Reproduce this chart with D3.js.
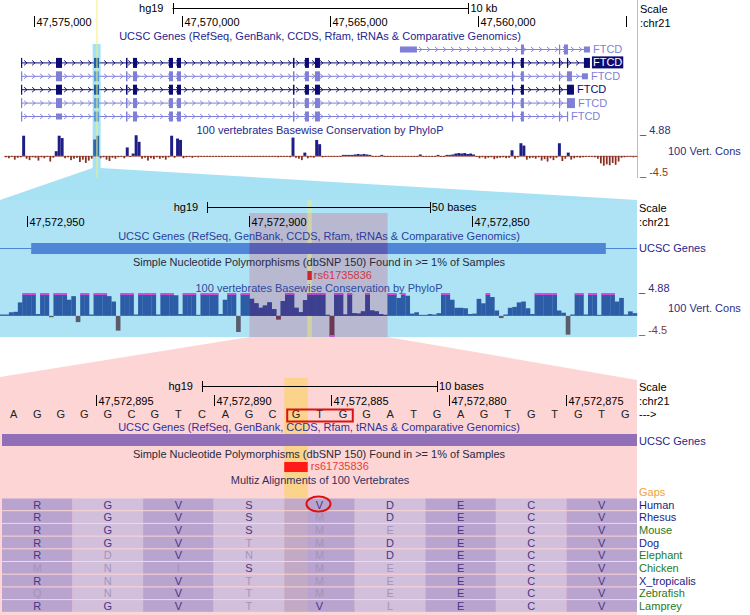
<!DOCTYPE html>
<html><head><meta charset="utf-8">
<script src="https://cdn.jsdelivr.net/npm/d3@7"></script>
<style>
body{margin:0;background:#fff}
svg{display:block}
text{font-family:"Liberation Sans",Arial,Helvetica,sans-serif;font-size:11px}
</style></head>
<body><svg id="c" width="750" height="615"></svg>
<script>
// ---------------- DATA ----------------
const assembly = "hg19", chromLabel = ":chr21";
const view1 = [47554628, 47576014];
const view2 = [47572813, 47572956];
const view3 = [47572872, 47572899];
const hl1 = [47572750, 47573020];
const hl2 = [47572869, 47572900];
const snpPos = [47572886, 47572887];
const snpName = "rs61735836";

const posTicks1 = [47575000, 47570000, 47565000, 47560000, 47555000];
const posTicks2 = [47572950, 47572900, 47572850];
const posTicks3 = [47572895, 47572890, 47572885, 47572880, 47572875];
const scaleLens = [10000, 50, 10];
const scaleLabels = ["10 kb", "50 bases", "10 bases"];

const trackTitles = {
  genes: "UCSC Genes (RefSeq, GenBank, CCDS, Rfam, tRNAs & Comparative Genomics)",
  snp: "Simple Nucleotide Polymorphisms (dbSNP 150) Found in >= 1% of Samples",
  cons: "100 vertebrates Basewise Conservation by PhyloP",
  multiz: "Multiz Alignments of 100 Vertebrates"
};
const consRange = [-4.5, 4.88];

const coreExons = [
  [47575439, 47575405], [47574257, 47574054], [47572973, 47572804],
  [47571892, 47571841], [47571656, 47571521], [47570440, 47570305],
  [47570170, 47570034], [47566251, 47566200], [47565846, 47565711],
  [47565508, 47565339], [47558853, 47558819], [47558549, 47558448],
  [47557265, 47557232]
];
const txNames = ["FTCD", "FTCD", "FTCD", "FTCD", "FTCD", "FTCD"];
const txDark = [false, true, false, true, false, false];
const txBoxed = [false, true, false, false, false, false];
const txUseCore = [false, true, true, true, true, true];
const txExtra = [
  [[47562637, 47562063, 1], [47558549, 47558448], [47557265, 47557232], [47557097, 47556961], [47556421, 47556218, 1]],
  [[47556995, 47556961], [47556421, 47556218]],
  [[47556995, 47556826], [47556489, 47556286, 1]],
  [[47556995, 47556758]],
  [[47556995, 47556725]],
  [[47556995, 47556961]]
];

// PhyloP, 100-bp bins from 47576000 downward
const cons1Start = 47576000, cons1Step = 100;
const cons1 = [
 -0.3,-0.5,-0.2,-0.8,-0.4,-0.3,4.3,-0.6,-0.9,-0.3,
 -0.4,-1.0,-0.3,-0.5,-0.2,-1.2,-0.4,1.0,4.3,3.8,
 -0.5,-0.3,-0.9,-0.6,-0.4,-1.3,-0.8,-1.5,-1.0,-0.6,
 3.5,4.3,-0.5,-0.3,-0.8,-1.1,-0.4,-0.6,-0.3,-0.2,
 -0.5,1.8,-0.2,0.5,4.4,3.0,-0.6,-0.4,-1.0,-0.5,
 -0.7,-0.3,-0.6,-0.4,-0.8,-0.3,4.3,-0.4,3.7,3.4,
 -0.5,-0.3,-0.2,-0.4,-0.2,-0.3,-0.1,-0.2,-0.1,-0.2,
 -0.1,-0.2,-0.1,-0.1,-0.2,-0.1,-0.1,-0.2,-0.1,-0.1,
 -0.2,-0.1,-0.1,-0.2,-0.1,-0.1,-0.1,-0.2,-0.1,-0.1,
 -0.2,-0.1,-0.3,-0.2,-0.1,-0.2,-0.3,3.9,-0.4,-0.6,
 -0.9,0.7,-0.5,-0.3,-0.4,3.4,2.5,-0.3,-0.2,-0.1,
 -0.1,-0.1,-0.2,-0.1,0.2,0.1,0.1,0.2,0.3,0.4,
 0.3,0.4,0.3,0.2,-0.1,-0.1,-0.1,0.1,-0.1,-0.1,
 -0.1,-0.1,-0.2,-0.1,-0.1,-0.1,-0.1,-0.2,-0.1,-0.1,
 0.3,-0.1,-0.1,-0.1,-0.1,-0.1,0.1,-0.1,-0.1,0.1,
 0.2,0.3,0.5,0.6,0.5,0.6,0.4,0.5,0.3,-0.2,
 -0.5,-0.3,-0.6,-0.4,-0.3,-0.7,-0.5,-0.4,-0.3,-0.5,
 -0.4,1.2,-0.6,-0.3,2.7,2.2,-0.8,-0.5,-0.4,-0.6,
 -0.3,-1.0,-0.7,-1.2,-0.5,-0.9,-0.4,2.7,-1.1,-0.6,
 0.7,-0.8,-0.5,-0.3,-0.4,-0.3,-0.2,-0.1,-0.2,-0.3,
 -0.6,-1.6,-2.1,-1.8,-2.0,-1.5,-1.9,-1.2,-0.4,-0.3,
 -0.2,-0.1,-0.3,-0.2
];

// PhyloP per base from 47572956 downward
const cons2Start = 47572956;
const cons2 = [
 0.3,0.3,0.8,0.9,3.0,6.2,6.2,6.2,0.4,6.2,
 6.2,-0.3,6.2,6.2,6.2,3.6,4.4,-1.4,6.2,6.2,
 0.3,6.2,6.2,6.2,4.4,3.2,-3.3,6.2,6.2,6.2,
 0.3,6.2,6.2,6.2,6.2,0.3,6.2,6.2,6.2,4.6,
 0.4,6.2,6.2,6.2,0.2,6.2,6.2,6.2,6.2,0.4,
 3.6,6.2,6.2,-3.6,6.2,6.2,3.8,2.8,1.8,2.3,
 3.0,1.5,-0.8,3.3,6.2,6.2,1.8,0.8,3.5,6.2,
 6.2,6.2,6.2,0.2,-5.2,6.2,6.2,0.3,6.2,0.6,
 0.5,1.0,6.2,1.2,1.0,0.4,0.2,6.2,6.2,4.0,
 6.2,4.5,0.5,0.8,0.2,0.2,0.4,0.3,0.6,6.2,
 6.2,3.6,1.8,1.8,1.7,0.4,0.5,3.8,2.8,6.2,
 4.2,1.2,-0.5,0.3,1.8,2.0,3.0,3.2,1.7,0.4,
 6.2,6.2,6.2,6.2,6.2,1.2,0.7,-4.2,0.3,6.2,
 6.2,0.3,6.2,6.2,0.2,6.2,6.2,6.2,3.2,4.0,
 0.3,1.0,0.6
];
const gene2Exon = [47572820, 47572949];

const bases = "AGGGGCGTCAGCGTGGATGAGTGTGTG";
const species = ["Human","Rhesus","Mouse","Dog","Elephant","Chicken","X_tropicalis","Zebrafish","Lamprey"];
const speciesGreen = [false,false,true,false,true,true,false,true,true];
const aaRows = ["RGVSVDECV","RGVSMDECV","RGVSMEECV","RGVTMDECV","RDVNMDECV","MNISMEECV","RNVTMEECV","QNVTMEECV","RGVTVLECV"];

// ---------------- DRAW ----------------
const svg = d3.select("#c");
const R = 637;
const TS = 10.5; // track title font size
const x1 = d3.scaleLinear().domain([view1[1], view1[0]]).range([4, R]);
const x2 = d3.scaleLinear().domain([view2[1], view2[0]]).range([0, R]);
const x3 = d3.scaleLinear().domain([view3[1], view3[0]]).range([2, R]);
const fmt = d3.format(",");

function T(g, x, y, s, o = {}) {
  const t = g.append("text").attr("x", x).attr("y", y + 4).text(s).attr("fill", o.fill || "#000");
  if (o.anchor) t.attr("text-anchor", o.anchor);
  if (o.size) t.attr("font-size", o.size);
  return t;
}
function span(xs, a, b) { const p = xs(a), q = xs(b); return [Math.min(p, q), Math.abs(p - q)]; }

function scaleRow(g, xs, y, len, lab) {
  const cx = (xs.range()[0] + xs.range()[1]) / 2;
  const half = Math.abs(xs(0) - xs(len)) / 2;
  const a = cx - half, b = cx + half;
  g.append("line").attr("x1", a).attr("x2", b).attr("y1", y + 0.5).attr("y2", y + 0.5).attr("stroke", "#000");
  [a, b].forEach(v => g.append("line").attr("x1", Math.round(v) + 0.5).attr("x2", Math.round(v) + 0.5)
    .attr("y1", y - 5).attr("y2", y + 6).attr("stroke", "#000"));
  T(g, a - 9, y, assembly, { anchor: "end" });
  T(g, b + 2, y, lab);
}
function posRow(g, xs, y, ticks) {
  ticks.forEach(p => {
    const xv = Math.round(xs(p)) + 0.5;
    g.append("line").attr("x1", xv).attr("x2", xv).attr("y1", y - 6).attr("y2", y + 5).attr("stroke", "#000");
    const t = T(g, xv + 2, y, fmt(p));
    if (xv + 2 + t.node().getComputedTextLength() > R) t.remove();
  });
}

// ===== Panel 1 =====
const p1 = svg.append("g");
p1.append("line").attr("x1", R + 0.5).attr("x2", R + 0.5).attr("y1", 0).attr("y2", 178).attr("stroke", "#f2a6a6");
scaleRow(p1, x1, 8, scaleLens[0], scaleLabels[0]);
posRow(p1, x1, 22, posTicks1);
T(p1, 640, 9, "Scale");
T(p1, 640, 23, chromLabel);
T(p1, 320, 36, trackTitles.genes, { anchor: "middle", fill: "#26268e", size: TS });

const darkC = "#0b0b73", lightC = "#7f7fd6";
txNames.forEach((nm, i) => {
  const y = 49 + i * 13.4;
  const col = txDark[i] ? darkC : lightC;
  const ex = (txUseCore[i] ? coreExons.map(e => [e[0], e[1], i === 5 && e === coreExons[1] ? 1 : 0]) : []).concat(txExtra[i]);
  const all = ex.flatMap(e => [e[0], e[1]]);
  const xa = x1(d3.max(all)), xb = x1(d3.min(all));
  p1.append("line").attr("x1", xa).attr("x2", xb).attr("y1", y + 0.5).attr("y2", y + 0.5).attr("stroke", col);
  let d = "";
  for (let cx = xa + 5; cx < xb - 3; cx += 8) d += `M${cx - 2},${y - 2}L${cx + 1},${y + 0.5}L${cx - 2},${y + 3}`;
  p1.append("path").attr("d", d).attr("stroke", col).attr("fill", "none").attr("stroke-width", 0.9);
  ex.forEach(e => {
    const [sx, w] = span(x1, e[0], e[1]);
    const h = e[2] ? 6 : 10;
    p1.append("rect").attr("x", sx).attr("y", y - h / 2 + 0.5).attr("width", Math.max(1.2, w)).attr("height", h).attr("fill", col);
  });
  const lx = xb + 2;
  if (txBoxed[i]) {
    const t = T(p1, lx + 1, y, nm, { fill: "#fff" });
    const w = t.node().getComputedTextLength();
    p1.insert("rect", () => t.node()).attr("x", lx).attr("y", y - 6).attr("width", w + 2).attr("height", 12).attr("fill", darkC);
  } else T(p1, lx + 1, y, nm, { fill: col });
});

T(p1, 320, 130, trackTitles.cons, { anchor: "middle", fill: "#26268e", size: TS });
const y1c = d3.scaleLinear().domain(consRange).range([177, 133]).clamp(true);
p1.append("line").attr("x1", 4).attr("x2", R).attr("y1", y1c(0) + 0.5).attr("y2", y1c(0) + 0.5).attr("stroke", "#9a5a50").attr("stroke-width", 0.8);
const bw1 = Math.abs(x1(0) - x1(cons1Step));
p1.append("g").selectAll("rect").data(cons1).join("rect")
  .attr("x", (v, k) => x1(cons1Start - k * cons1Step) + (v >= 0 ? 0 : 0.6))
  .attr("width", v => v >= 0 ? bw1 : bw1 - 1.2)
  .attr("y", v => v >= 0 ? Math.min(y1c(v), y1c(0) - 1) : y1c(0))
  .attr("height", v => Math.max(1, Math.abs(y1c(v) - y1c(0))))
  .attr("fill", v => v >= 0 ? "#1e1e86" : "#8b2e1e");
T(p1, 640, 130, "_ " + consRange[1], { fill: "#2e2e80" });
T(p1, 668, 151, "100 Vert. Cons", { fill: "#2e2e80" });
T(p1, 640, 172, "_ " + consRange[0], { fill: "#8b3a2a" });

// cyan strip & wedge
const sa = x1(hl1[1]), sb = x1(hl1[0]);
svg.append("path").attr("d", `M${sa},44L${sb},44L${sb},168L${R},200L0,200L${sa},168Z`)
  .attr("fill", "#3cbee6").attr("opacity", 0.45);
{
  const [sx, w] = span(x1, snpPos[0], snpPos[1]);
  svg.append("rect").attr("x", sx - 0.4).attr("y", 0).attr("width", Math.max(1.6, w)).attr("height", 178)
    .attr("fill", "#f0f070").attr("opacity", 0.6);
}

// ===== Panel 2 =====
const p2 = svg.append("g");
p2.append("rect").attr("x", 0).attr("y", 200).attr("width", R).attr("height", 137).attr("fill", "#ade3f5");
const [ox, ow] = span(x2, hl2[0], hl2[1]);
p2.append("rect").attr("x", ox).attr("y", 213).attr("width", ow).attr("height", 124).attr("fill", "#b9b8d1");
{
  const [sx, w] = span(x2, snpPos[0], snpPos[1]);
  p2.append("rect").attr("x", sx).attr("y", 200).attr("width", w).attr("height", 137).attr("fill", "#f0f070").attr("opacity", 0.45);
}
svg.append("clipPath").attr("id", "ov").append("rect").attr("x", ox).attr("y", 213).attr("width", ow).attr("height", 124);

scaleRow(p2, x2, 207, scaleLens[1], scaleLabels[1]);
posRow(p2, x2, 222, posTicks2);
T(p2, 639, 208, "Scale");
T(p2, 639, 222, chromLabel);
T(p2, 319, 236, trackTitles.genes, { anchor: "middle", fill: "#2b3d9c", size: TS });
T(p2, 319, 262, trackTitles.snp, { anchor: "middle", fill: "#2a2a3a", size: TS });
T(p2, 319, 288, trackTitles.cons, { anchor: "middle", fill: "#2f4a9e", size: TS });
T(p2, 639, 248, "UCSC Genes", { fill: "#26268e" });
T(p2, 639, 288, "_ " + consRange[1], { fill: "#2e2e80" });
T(p2, 668, 308, "100 Vert. Cons", { fill: "#2e2e80" });
T(p2, 639, 330, "_ " + consRange[0], { fill: "#8b3a2a" });

const y2c = d3.scaleLinear().domain(consRange).range([336, 294]).clamp(true);
function drawTrack2(g, inside) {
  const gc = inside ? "#5a5fb6" : "#4f86d8";
  g.append("line").attr("x1", 0).attr("x2", R).attr("y1", 248.5).attr("y2", 248.5).attr("stroke", gc);
  const [gx, gw] = span(x2, gene2Exon[0], gene2Exon[1]);
  g.append("rect").attr("x", gx).attr("y", 243).attr("width", gw).attr("height", 11).attr("fill", gc);
  const bw = Math.abs(x2(0) - x2(1));
  const bars = g.append("g");
  cons2.forEach((v, k) => {
    const xx = x2(cons2Start - k);
    const y0 = y2c(0);
    const pos = v >= 0;
    bars.append("rect").attr("x", xx).attr("width", bw + 0.2)
      .attr("y", pos ? Math.min(y2c(v), y0 - 1) : y0)
      .attr("height", Math.max(1, Math.abs(y2c(v) - y0)))
      .attr("fill", pos ? (inside ? "#3e3f8e" : "#2c5ca6") : (inside ? "#6e3853" : "#5b5b6b"));
    if (v > consRange[1]) bars.append("rect").attr("x", xx).attr("width", bw + 0.2).attr("y", y2c(v) - 1).attr("height", 2).attr("fill", inside ? "#b848cf" : "#d24ddc");
    if (v < consRange[0]) bars.append("rect").attr("x", xx).attr("width", bw + 0.2).attr("y", y2c(v) - 1).attr("height", 2).attr("fill", "#d24ddc");
  });
}
drawTrack2(p2.append("g"), false);
drawTrack2(p2.append("g").attr("clip-path", "url(#ov)"), true);
{
  const [sx, w] = span(x2, snpPos[0], snpPos[1]);
  p2.append("rect").attr("x", sx).attr("y", 271).attr("width", w).attr("height", 9).attr("fill", "#cf2436");
  T(p2, sx + w + 2, 275, snpName, { fill: "#d23545" });
}

// ===== Panel 3 =====
const p3 = svg.append("g");
const pink = "#fdd5d5";
p3.append("path").attr("d", `M${ox},337L${ox + ow},337L${R},380L${R},615L0,615L0,377Z`).attr("fill", pink);
const [gx3, gw3] = span(x3, snpPos[0], snpPos[1]);
p3.append("rect").attr("x", gx3).attr("y", 378).attr("width", gw3).attr("height", 120).attr("fill", "#fbd38a");

scaleRow(p3, x3, 386, scaleLens[2], scaleLabels[2]);
posRow(p3, x3, 401, posTicks3);
T(p3, 639, 387, "Scale");
T(p3, 639, 401, chromLabel);
T(p3, 639, 414, "--->");
bases.split("").forEach((b, i) => {
  const cx = (x3(view3[1] - i) + x3(view3[1] - i - 1)) / 2;
  T(p3, cx, 414, b, { anchor: "middle", fill: "#222" });
});
T(p3, 319, 427, trackTitles.genes, { anchor: "middle", fill: "#30309a", size: TS });
p3.append("rect").attr("x", x3(view3[1])).attr("y", 434).attr("width", x3(view3[0]) - x3(view3[1])).attr("height", 12).attr("fill", "#9270b8");
T(p3, 639, 441, "UCSC Genes", { fill: "#26268e" });
T(p3, 319, 454, trackTitles.snp, { anchor: "middle", fill: "#2a2a3a", size: TS });
p3.append("rect").attr("x", gx3).attr("y", 462).attr("width", gw3).attr("height", 10).attr("fill", "#ff1a1a");
T(p3, gx3 + gw3 + 3, 466, snpName, { fill: "#ec3a3a" });
T(p3, 320, 480, trackTitles.multiz, { anchor: "middle", fill: "#303060", size: TS });
T(p3, 639, 492, "Gaps", { fill: "#eda23a" });

// alignment
const nCod = aaRows[0].length;
species.forEach((sp, r) => {
  const ty = 498.5 + r * 12.7;
  for (let c = 0; c < nCod; c++) {
    const xa = x3(view3[1] - 3 * c), xb = x3(view3[1] - 3 * c - 3);
    p3.append("rect").attr("x", xa).attr("y", ty).attr("width", xb - xa).attr("height", 11.7)
      .attr("fill", c % 2 === 0 ? "#b9a3cf" : "#d2bfdc");
    const aa = aaRows[r][c];
    const match = aa === aaRows[0][c];
    T(p3, (xa + xb) / 2, ty + 6, aa, { anchor: "middle", fill: match ? "#4a3580" : "#a395b8" });
  }
  T(p3, 639, ty + 6, sp, { fill: speciesGreen[r] ? "#1f7a26" : "#1c1c86" });
});
p3.append("rect").attr("x", gx3).attr("y", 498).attr("width", gw3).attr("height", 115).attr("fill", "#fbd38a").attr("opacity", 0.15);

// annotations
{
  const xa = x3(view3[1] - 12), xb = x3(view3[1] - 15);
  p3.append("rect").attr("x", xa + 3).attr("y", 409.5).attr("width", xb - xa - 5).attr("height", 12)
    .attr("fill", "none").attr("stroke", "#dd1111").attr("stroke-width", 2);
  p3.append("ellipse").attr("cx", (xa + xb) / 2 - 1).attr("cy", 504).attr("rx", 12).attr("ry", 7.5)
    .attr("fill", "none").attr("stroke", "#dd1111").attr("stroke-width", 2);
}
</script></body></html>
